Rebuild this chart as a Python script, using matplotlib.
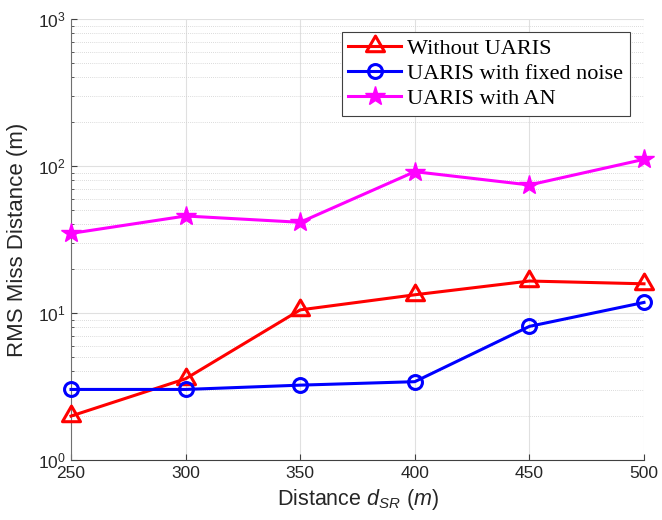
import matplotlib
matplotlib.use("Agg")
import matplotlib.pyplot as plt
from matplotlib.path import Path
from matplotlib.ticker import LogLocator, NullFormatter

distance = [250, 300, 350, 400, 450, 500]
without_uaris = [1.99, 3.57, 10.5, 13.3, 16.5, 15.8]
fixed_noise = [3.02, 3.02, 3.23, 3.41, 8.11, 11.8]
with_an = [34.8, 45.7, 41.4, 91.5, 74.3, 111.0]
labels = ["Without UARIS", "UARIS with fixed noise", "UARIS with AN"]

plt.rcParams['font.family'] = ['Liberation Sans', 'DejaVu Sans']
plt.rcParams['mathtext.fontset'] = 'custom'
plt.rcParams['mathtext.rm'] = 'Liberation Sans'
plt.rcParams['mathtext.it'] = 'Liberation Sans:italic'
plt.rcParams['mathtext.default'] = 'regular'

fig = plt.figure(figsize=(6.62, 5.20), dpi=100)
ax = fig.add_axes([71/662, 1-460/520, 573/662, 441/520])

tri = Path([(0, 1), (-0.866, -0.5), (0.866, -0.5), (0, 1)],
           [Path.MOVETO, Path.LINETO, Path.LINETO, Path.CLOSEPOLY])
lw = 2.2
ax.plot(distance, without_uaris, color='#ff0000', lw=lw, marker=tri, ms=15,
        mfc='none', mew=2.2, label=labels[0], zorder=3, clip_on=False)
ax.plot(distance, fixed_noise, color='#0000ff', lw=lw, marker='o', ms=10,
        mfc='none', mew=2.2, label=labels[1], zorder=3, clip_on=False)
ax.plot(distance, with_an, color='#ff00ff', lw=lw, marker='*', ms=15,
        mfc='#ff00ff', mew=1, label=labels[2], zorder=3, clip_on=False)

ax.set_yscale('log')
ax.set_xlim(250, 500)
ax.set_ylim(1, 1000)
ax.set_xticks(distance)
ax.yaxis.set_major_locator(LogLocator(base=10, numticks=10))
ax.yaxis.set_minor_locator(LogLocator(base=10, subs=range(2, 10), numticks=20))
ax.yaxis.set_minor_formatter(NullFormatter())

ax.grid(True, which='major', color='#e0e0e0', lw=0.8, ls='-')
ax.grid(True, which='minor', axis='y', color='#cfcfcf', lw=0.6, ls=(0, (1, 1.5)))
ax.set_axisbelow(True)

ax.spines['top'].set_visible(False)
ax.spines['right'].set_visible(False)
ax.spines['left'].set_color('#707070')
ax.spines['bottom'].set_color('#404040')
for s in ax.spines.values():
    s.set_linewidth(0.8)
ax.tick_params(which='both', direction='in', top=False, right=False,
               colors='#404040', labelsize=12.5, labelcolor='#262626')
ax.tick_params(which='minor', length=2.5)
ax.tick_params(which='major', length=4.5, pad=4)

ax.set_xlabel('Distance $\\mathit{d_{SR}}$ $\\mathit{(m)}$', fontsize=15.5, color='#262626', labelpad=5)
ax.set_ylabel('RMS Miss Distance (m)', fontsize=16, color='#262626', labelpad=7)

leg = ax.legend(loc='upper right', bbox_to_anchor=(0.9756, 0.9705),
                borderaxespad=0,
                prop={'family': 'Liberation Serif', 'size': 16},
                frameon=True, fancybox=False, edgecolor='#404040',
                framealpha=1, handlelength=2.35, borderpad=0.3,
                labelspacing=0.2, handletextpad=0.3)
leg.get_frame().set_linewidth(0.8)

fig.savefig('out.png', dpi=100)
